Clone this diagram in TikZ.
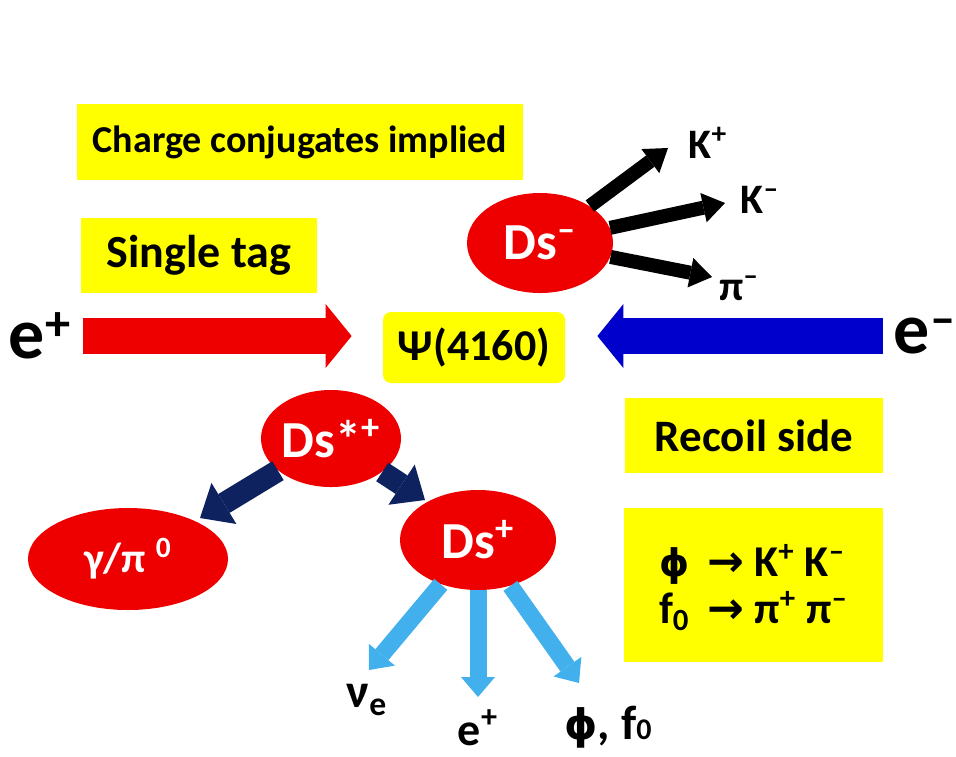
\documentclass[tikz,border=0pt]{standalone}
\usepackage{fontspec}
\setmainfont{Carlito}
\newfontfamily\symfont{DejaVu Sans}
\usetikzlibrary{shapes.geometric, arrows.meta}
\definecolor{tagyellow}{RGB}{255,255,0}
\definecolor{mesonred}{RGB}{238,0,0}
\definecolor{beamblue}{RGB}{0,0,204}
\definecolor{decaynavy}{RGB}{14,34,96}
\definecolor{leptonblue}{RGB}{66,176,236}
\tikzstyle{tagbox} = [
    rectangle,
    fill=tagyellow,
    inner sep=0pt,
    font=\bfseries\fontsize{22.5}{27}\selectfont
]
\tikzstyle{meson} = [
    ellipse,
    fill=mesonred,
    text=white,
    inner sep=0pt,
    font=\bfseries\fontsize{26}{30}\selectfont
]
\tikzstyle{particle} = [
    inner sep=0pt,
    font=\bfseries\fontsize{21}{24}\selectfont
]
\tikzstyle{beam} = [line width=18pt,-{Triangle[width=32pt,length=13pt,line width=0pt 0 0]}]
\tikzstyle{kaonarrow} = [line width=7pt,-{Triangle[width=15pt,length=11pt,line width=0pt 0 0]}]
\tikzstyle{stararrow} = [decaynavy,line width=11pt,-{Triangle[width=24pt,length=14pt,line width=0pt 0 0]}]
\tikzstyle{leptonarrow} = [leptonblue,line width=8.5pt,-{Triangle[width=17pt,length=10pt,line width=0pt 0 0]}]

\begin{document}
\begin{tikzpicture}[x=0.5pt,y=-0.5pt]
\useasboundingbox (0,0) rectangle (956,756);

\node (conj) [tagbox, minimum width=223pt, minimum height=38pt, font=\bfseries\fontsize{19}{22}\selectfont] at (300,142) {Charge conjugates implied};

\node (single) [tagbox, minimum width=118pt, minimum height=37.5pt, font=\bfseries\fontsize{23}{27}\selectfont] at (199,255.5) {Single tag};

\node (psi) [tagbox, rounded corners=4pt, minimum width=91pt, minimum height=35.5pt, font=\bfseries\fontsize{22}{26}\selectfont] at (474,347.5) {Ψ(4160)};

\node (recoil) [tagbox, minimum width=129pt, minimum height=37.5pt] at (754,435.5) {Recoil side};

\node (decays) [tagbox, minimum width=129.5pt, minimum height=77pt, font=\bfseries\fontsize{22}{23.5}\selectfont] at (753.5,585) {\raisebox{-3pt}[\height][\depth]{\begin{tabular}{@{}l@{\hspace{9pt}}l@{}}
{\symfont\fontsize{19}{22}\selectfont ϕ} & {\symfont →} K\textsuperscript{+} K\textsuperscript{–}\\
f\textsubscript{0} & {\symfont →} π\textsuperscript{+} π\textsuperscript{–}
\end{tabular}}};

\node (eplus) [particle, font=\bfseries\fontsize{36}{40}\selectfont] at (40,336) {e\textsuperscript{+}};

\node (eminus) [particle, font=\bfseries\fontsize{36}{40}\selectfont] at (925,336) {e\textsuperscript{–}};

\node (dsminus) [meson, minimum width=73pt, minimum height=50pt] at (540,243) {Ds\textsuperscript{–}};

\node (dsstar) [meson, minimum width=70pt, minimum height=48.5pt] at (331,438.5) {Ds*\textsuperscript{+}};

\node (gampi) [meson, minimum width=100pt, minimum height=51pt, font=\bfseries\fontsize{21}{24}\selectfont] at (128,559) {γ/π \textsuperscript{0}};

\node (dsplus) [meson, minimum width=78pt, minimum height=50pt] at (478,540) {Ds\textsuperscript{+}};

\node (kplus) [particle] at (708,143) {K\textsuperscript{+}};
\node (kminus) [particle] at (760,200) {K\textsuperscript{–}};
\node (piminus) [particle] at (739,288) {π\textsuperscript{–}};

\node (nue) [particle, font=\bfseries\fontsize{24}{28}\selectfont] at (367,700) {ν\textsubscript{e}};
\node (lepton) [particle, font=\bfseries\fontsize{23}{26}\selectfont] at (478,728) {e\textsuperscript{+}};
\node (hadron) [particle, font=\bfseries\fontsize{24}{28}\selectfont] at (608,727) {{\symfont\fontsize{21}{24}\selectfont ϕ}, f{\fontsize{15}{17}\selectfont 0}};

\coordinate (kplustip) at (668,148);
\coordinate (kminustip) at (725,203);
\coordinate (piminustip) at (712,277);
\coordinate (gampitip) at (200,518);
\coordinate (dsplustip) at (425,500);
\coordinate (nuetip) at (369,670);
\coordinate (leptontip) at (478,697);
\coordinate (hadrontip) at (579,683);

\draw [beam, mesonred, shorten <=5.5pt, shorten >=15.5pt] (eplus) -- (eplus -| psi.west);
\draw [beam, beamblue, shorten <=5pt, shorten >=16pt] (eminus) -- (eminus -| psi.east);

\draw [kaonarrow] (dsminus) -- (kplustip);
\draw [kaonarrow] (dsminus) -- (kminustip);
\draw [kaonarrow] (dsminus) -- (piminustip);

\draw [stararrow] (dsstar) -- (gampitip);
\draw [stararrow] (dsstar) -- (dsplustip);

\draw [leptonarrow] (dsplus) -- (nuetip);
\draw [leptonarrow] (dsplus) -- (leptontip);
\draw [leptonarrow] (dsplus) -- (hadrontip);

\end{tikzpicture}
\end{document}
